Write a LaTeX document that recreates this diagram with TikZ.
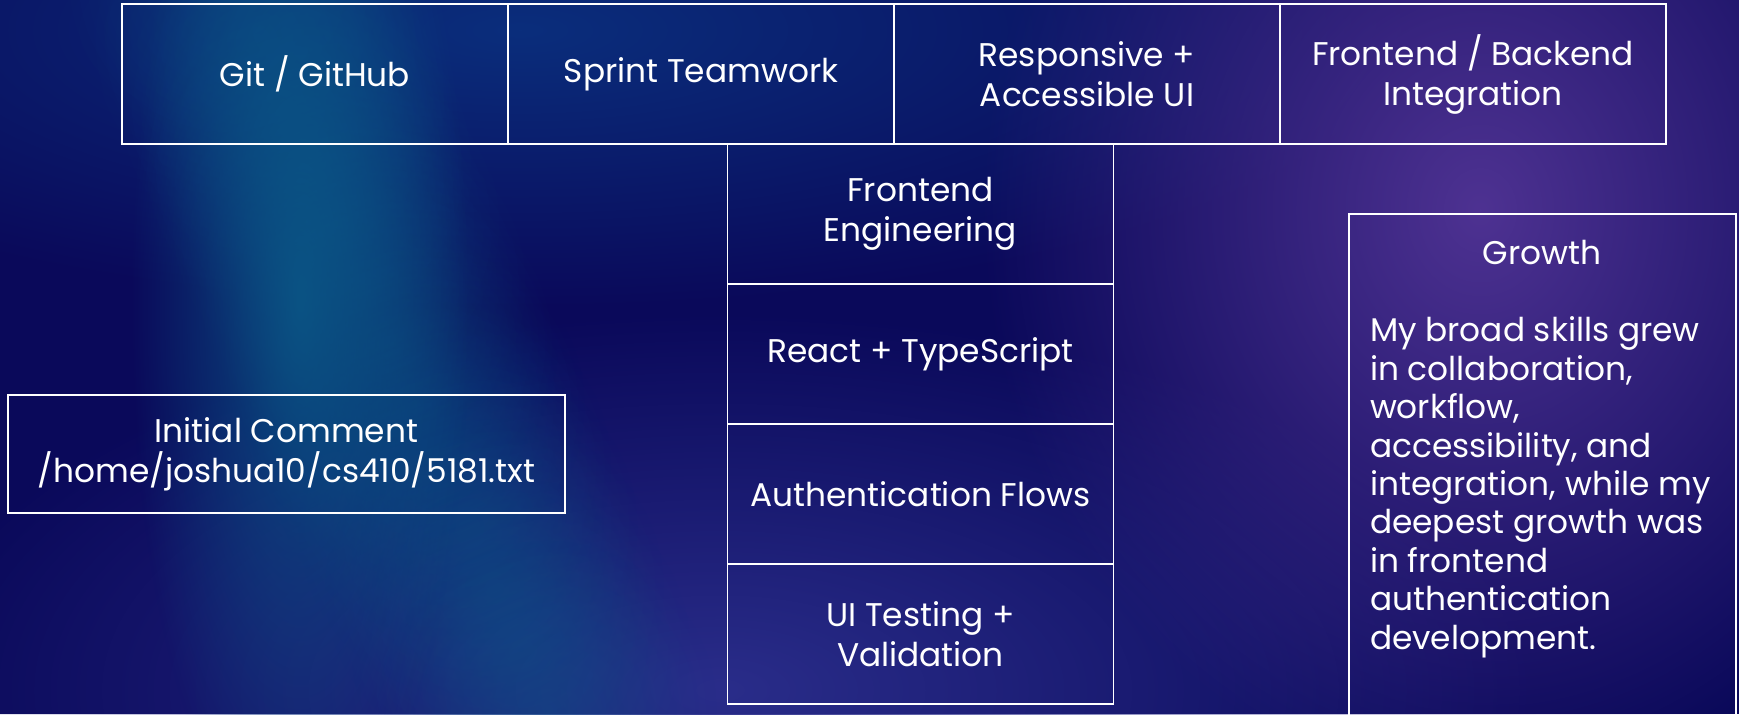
\documentclass[tikz,border=0pt]{standalone}
\usepackage{fontspec}
\setmainfont{Poppins}
\usetikzlibrary{positioning,fadings}

\definecolor{bgnavy}{HTML}{0A095A}
\definecolor{streakteal}{HTML}{0A5A88}
\definecolor{glowblue}{HTML}{2A2D8A}
\definecolor{glowpurple}{HTML}{4E3292}
\definecolor{topblue}{HTML}{0A2E7C}

\tikzfading[name=glowfade, inner color=transparent!0, outer color=transparent!100]

\begin{document}
\begin{tikzpicture}[x=0.5pt, y=-0.5pt,
  cell/.style={draw=white, line width=0.9pt, minimum width=193pt, minimum height=70pt,
    inner sep=0pt, outer sep=0pt, align=center, text=white,
    font=\fontsize{16.4}{20}\selectfont},
  glow/.style={fill=#1, path fading=glowfade}]
  \useasboundingbox (0,0) rectangle (1739,714);
  \clip (0,0) rectangle (1739,714);

  % background
  \fill[bgnavy] (0,0) rectangle (1739,714);
  \fill[glow=topblue] (520,30) ellipse (900 and 280);
  \fill[glow=glowblue] (720,690) ellipse (820 and 380);
  \foreach \t in {0,0.08,...,1.0}
    \fill[glow=streakteal, fill opacity=0.3] ({230+330*\t},{-20+760*\t}) ellipse (170 and 170);
  \fill[glow=streakteal, fill opacity=0.85] (300,300) ellipse (170 and 560);
  \fill[glow=glowpurple] (1480,210) ellipse (500 and 580);

  % top row
  \node[cell, anchor=north west] (git) at (122,4) {Git / GitHub};
  \node[cell, right=0pt of git] (sprint) {Sprint Teamwork};
  \node[cell, right=0pt of sprint] (resp) {Responsive +\\Accessible UI};
  \node[cell, right=0pt of resp] (integ) {Frontend / Backend\\Integration};

  % column
  \node[cell, anchor=north west] (fe) at (727.5,144) {Frontend\\Engineering};
  \node[cell, below=0pt of fe] (react) {React + TypeScript};
  \node[cell, below=0pt of react] (auth) {Authentication Flows};
  \node[cell, below=0pt of auth] (uitest) {UI Testing +\\Validation};

  % left
  \node[cell, anchor=north west, minimum width=278.5pt, minimum height=59pt] (init) at (8,395)
    {Initial Comment\\/home/joshua10/cs410/5181.txt};

  % right
  \node[cell, anchor=north west, minimum width=193.5pt, minimum height=280pt] (growthbox) at (1348.6,214) {};
  \node[text=white, font=\fontsize{16.4}{20}\selectfont] (growth) at (1542,252) {Growth};
  \node[text=white, anchor=north west, inner sep=0pt, align=left,
    font=\fontsize{16.4}{19.2}\selectfont] (growthtext) at (1369.6,316.5)
    {My broad skills grew\\in collaboration,\\workflow,\\accessibility, and\\integration, while my\\deepest growth was\\in frontend\\authentication\\development.};
\end{tikzpicture}
\end{document}
